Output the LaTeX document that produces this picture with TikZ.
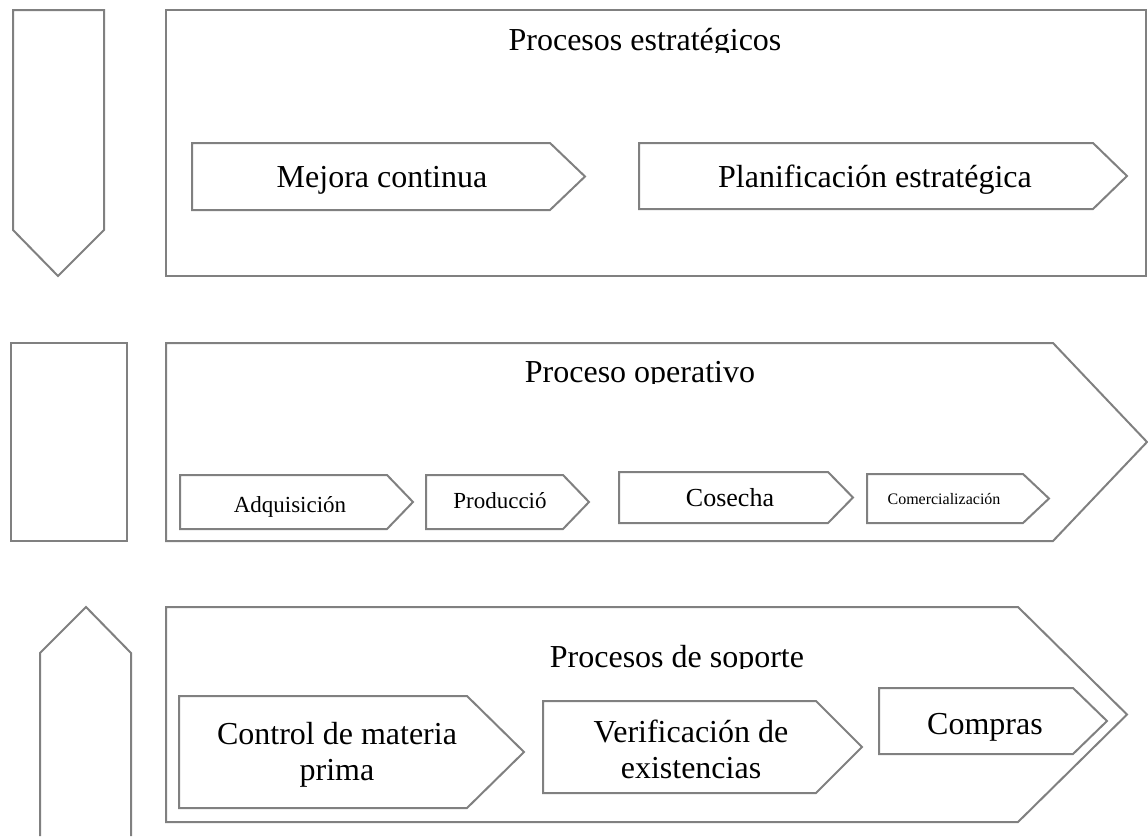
\documentclass[tikz,border=0pt]{standalone}
\usepackage{fontspec}
\setmainfont{Liberation Serif}
\definecolor{linegray}{RGB}{128,128,128}
\newcommand\chevshape[5]{\draw[shapeline] (#1,#2) -- (#4,#2) -- (#5,{(#2+#3)/2}) -- (#4,#3) -- (#1,#3) -- cycle;}
\begin{document}
\begin{tikzpicture}[x=1pt,y=-1pt,
  shapeline/.style={draw=linegray,line width=2pt,line join=miter},
  lbl/.style={inner sep=0pt,anchor=base,text=black},
  mlbl/.style={inner sep=0pt,anchor=center,align=center,text=black},
  big/.style={font=\fontsize{32}{36}\selectfont},
  mid/.style={font=\fontsize{23}{27}\selectfont},
  cosf/.style={font=\fontsize{26}{30}\selectfont},
  small/.style={font=\fontsize{16}{19}\selectfont}]
\useasboundingbox (0,0) rectangle (1148,836);
% --- strategic row ---
\draw[shapeline] (13,10) -- (104,10) -- (104,230) -- (58,276) -- (13,230) -- cycle;
\draw[shapeline] (166,10) rectangle (1146,276);
\begin{scope}
  \clip (166,0) rectangle (1146,52);
  \node[lbl,big] (t1) at (645,50) {Procesos estratégicos};
\end{scope}
\chevshape{192}{143}{210}{550}{585}
\node[lbl,big] (mejora) at (382,187) {Mejora continua};
\chevshape{639}{143}{209}{1093}{1127}
\node[lbl,big] (plan) at (875,187) {Planificación estratégica};
% --- operative row ---
\draw[shapeline] (11,343) rectangle (127,541);
\chevshape{166}{343}{541}{1053}{1147}
\begin{scope}
  \clip (166,330) rectangle (1100,383);
  \node[lbl,big] (t2) at (640,382) {Proceso operativo};
\end{scope}
\chevshape{180}{475}{529}{387}{413}
\node[lbl,mid] (adq) at (290,512) {Adquisición};
\chevshape{426}{475}{529}{563}{589}
\node[lbl,mid] (prod) at (500,508) {Producció};
\chevshape{619}{472}{523}{828}{853}
\node[lbl,cosf] (cos) at (730,506) {Cosecha};
\chevshape{867}{474}{523}{1023}{1049}
\node[lbl,small] (com) at (944,504) {Comercialización};
% --- support row ---
\draw[shapeline] (40,836) -- (40,653) -- (86,607) -- (131,653) -- (131,836);
\chevshape{166}{607}{822}{1018}{1127}
\begin{scope}
  \clip (166,600) rectangle (1100,668);
  \node[lbl,big] (t3) at (677,667) {Procesos de soporte};
\end{scope}
\chevshape{179}{696}{808}{467}{524}
\node[mlbl,big] (ctrl) at (337,755) {Control de materia\\prima};
\chevshape{543}{701}{793}{816}{862}
\node[mlbl,big] (verif) at (691,749) {Verificación de\\existencias};
\chevshape{879}{688}{754}{1073}{1107}
\node[lbl,big] (compras) at (985,734) {Compras};
\end{tikzpicture}
\end{document}
